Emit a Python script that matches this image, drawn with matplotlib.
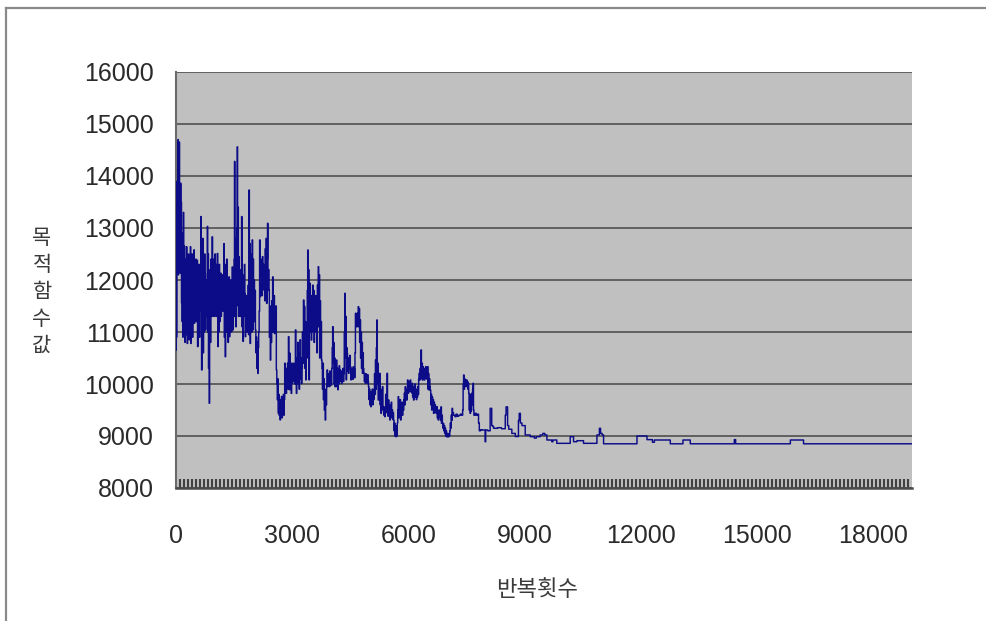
import matplotlib
matplotlib.use("Agg")
import matplotlib.pyplot as plt
from matplotlib.lines import Line2D
import numpy as np

# Objective value recorded over the search iterations
iterations = [
    0, 6, 12, 20, 28, 36, 44, 52, 60, 68, 76, 84, 92, 100, 110, 118, 126, 134, 142, 150,
    158, 166, 174, 182, 190, 198, 206, 214, 222, 230, 238, 246, 254, 262, 270, 280, 290, 300, 310, 320,
    330, 340, 350, 360, 370, 380, 390, 400, 412, 424, 436, 448, 460, 472, 484, 496, 508, 520, 532, 544,
    556, 568, 580, 592, 604, 616, 628, 640, 650, 660, 670, 680, 690, 700, 712, 724, 736, 748, 760, 772,
    784, 796, 808, 818, 828, 838, 848, 858, 868, 878, 888, 898, 910, 922, 932, 944, 956, 968, 980, 992,
    1004, 1016, 1030, 1042, 1054, 1066, 1078, 1090, 1102, 1114, 1126, 1138, 1150, 1162, 1174, 1186, 1198, 1210, 1222, 1234,
    1246, 1258, 1270, 1282, 1294, 1306, 1318, 1330, 1342, 1354, 1366, 1378, 1390, 1402, 1414, 1426, 1438, 1450, 1462, 1474,
    1486, 1498, 1510, 1520, 1530, 1540, 1550, 1560, 1570, 1580, 1590, 1600, 1610, 1620, 1632, 1644, 1656, 1668, 1680, 1692,
    1704, 1716, 1728, 1740, 1752, 1764, 1776, 1788, 1800, 1812, 1824, 1836, 1848, 1860, 1872, 1884, 1894, 1904, 1914, 1924,
    1934, 1944, 1954, 1966, 1978, 1990, 2002, 2014, 2026, 2038, 2050, 2062, 2074, 2086, 2098, 2110, 2122, 2134, 2146, 2158,
    2170, 2182, 2194, 2206, 2218, 2230, 2242, 2254, 2266, 2278, 2290, 2302, 2314, 2326, 2338, 2350, 2362, 2374, 2386, 2398,
    2410, 2422, 2434, 2446, 2458, 2470, 2482, 2494, 2506, 2518, 2530, 2542, 2554, 2566, 2578, 2590, 2602, 2614, 2626, 2638,
    2650, 2662, 2674, 2686, 2698, 2710, 2722, 2734, 2746, 2758, 2770, 2782, 2794, 2806, 2818, 2830, 2842, 2854, 2866, 2878,
    2890, 2902, 2914, 2926, 2938, 2950, 2962, 2974, 2986, 2998, 3010, 3022, 3034, 3046, 3058, 3070, 3082, 3094, 3106, 3118,
    3130, 3142, 3154, 3166, 3178, 3190, 3202, 3214, 3226, 3238, 3250, 3262, 3274, 3290, 3302, 3314, 3326, 3338, 3350, 3362,
    3375, 3388, 3400, 3410, 3420, 3432, 3444, 3456, 3468, 3480, 3492, 3504, 3516, 3528, 3540, 3552, 3564, 3576, 3588, 3600,
    3612, 3624, 3636, 3648, 3660, 3672, 3684, 3696, 3708, 3720, 3732, 3744, 3756, 3768, 3780, 3792, 3804, 3816, 3828, 3840,
    3852, 3864, 3876, 3888, 3900, 3912, 3924, 3936, 3948, 3960, 3972, 3984, 3996, 4008, 4020, 4032, 4044, 4056, 4068, 4080,
    4092, 4104, 4116, 4128, 4140, 4152, 4164, 4176, 4188, 4200, 4212, 4224, 4236, 4248, 4260, 4272, 4284, 4296, 4308, 4320,
    4332, 4344, 4356, 4368, 4380, 4392, 4404, 4416, 4428, 4440, 4452, 4464, 4476, 4488, 4500, 4512, 4524, 4536, 4548, 4560,
    4572, 4584, 4596, 4608, 4620, 4632, 4644, 4656, 4668, 4680, 4692, 4704, 4716, 4728, 4740, 4752, 4764, 4776, 4788, 4800,
    4812, 4824, 4836, 4848, 4860, 4872, 4884, 4896, 4908, 4920, 4932, 4944, 4956, 4968, 4980, 4992, 5004, 5016, 5028, 5040,
    5052, 5064, 5076, 5088, 5100, 5112, 5124, 5136, 5148, 5160, 5172, 5184, 5196, 5208, 5220, 5232, 5244, 5256, 5268, 5280,
    5292, 5304, 5316, 5328, 5340, 5352, 5364, 5376, 5388, 5400, 5412, 5424, 5436, 5448, 5460, 5472, 5484, 5496, 5508, 5520,
    5532, 5544, 5556, 5568, 5580, 5592, 5604, 5616, 5628, 5640, 5652, 5664, 5676, 5688, 5700, 5712, 5724, 5736, 5748, 5760,
    5772, 5784, 5796, 5808, 5820, 5832, 5844, 5856, 5868, 5880, 5892, 5904, 5916, 5928, 5940, 5952, 5964, 5976, 5988, 6000,
    6012, 6024, 6036, 6048, 6060, 6072, 6084, 6096, 6108, 6120, 6132, 6144, 6156, 6168, 6180, 6192, 6204, 6216, 6228, 6240,
    6252, 6264, 6276, 6288, 6300, 6312, 6324, 6336, 6348, 6360, 6372, 6384, 6396, 6408, 6420, 6432, 6444, 6456, 6468, 6480,
    6492, 6504, 6516, 6528, 6540, 6552, 6564, 6576, 6588, 6600, 6612, 6624, 6636, 6648, 6660, 6672, 6684, 6696, 6708, 6720,
    6732, 6744, 6756, 6768, 6780, 6792, 6804, 6816, 6828, 6840, 6852, 6864, 6876, 6888, 6900, 6912, 6924, 6936, 6948, 6960,
    6972, 6984, 6996, 7008, 7020, 7032, 7044, 7056, 7068, 7080, 7092, 7104, 7116, 7128, 7140, 7152, 7164, 7200, 7230, 7260,
    7300, 7340, 7370, 7400, 7412, 7424, 7436, 7448, 7460, 7472, 7484, 7496, 7508, 7520, 7532, 7544, 7556, 7568, 7580, 7592,
    7604, 7616, 7628, 7640, 7656, 7668, 7680, 7690, 7720, 7750, 7780, 7810, 7830, 7860, 7900, 7980, 7995, 8050, 8110, 8150,
    8180, 8200, 8300, 8400, 8500, 8520, 8560, 8590, 8670, 8760, 8840, 8860, 8890, 8930, 9015, 9144, 9250, 9300, 9400, 9470,
    9520, 9575, 9700, 9730, 9830, 10177, 10263, 10350, 10520, 10866, 10930, 10960, 11000, 11038, 11900, 12158, 12300, 12350, 12760, 13087,
    13276, 14413, 14447, 15860, 16200, 19000,
]

objective = [
    10650, 13250, 10900, 12400, 13900, 12800, 14200, 14700, 12100, 14500, 12300, 14650, 12150, 12450, 12130, 13860, 12200, 13500, 11560, 12900,
    11200, 12300, 10900, 11800, 13300, 12000, 11100, 12650, 11600, 10800, 12200, 11300, 12400, 10950, 12640, 11400, 10780, 12100, 11000, 12500,
    11700, 10850, 12200, 11300, 12640, 10780, 12000, 11200, 12500, 10900, 12300, 11500, 12580, 11170, 12200, 11500, 12400, 11200, 12000, 12380,
    10720, 11900, 11300, 12300, 10900, 12100, 11500, 13220, 11400, 10270, 12600, 11200, 12800, 10600, 12000, 11000, 12500, 12130, 11040, 11900,
    11300, 12000, 13030, 11000, 12500, 10300, 11800, 9630, 11500, 12200, 10800, 12400, 11300, 12000, 12830, 11300, 12400, 11600, 12100, 11300,
    12500, 11500, 12000, 11300, 12300, 12510, 10720, 12000, 11000, 12300, 11200, 11900, 12130, 11300, 12000, 11500, 12100, 11400, 11800, 12700,
    10900, 12300, 10525, 11800, 11000, 12400, 11200, 12000, 10800, 11700, 12060, 10910, 11800, 11200, 12000, 11000, 11600, 12250, 11040, 11800,
    11300, 12400, 14280, 11300, 12600, 11100, 12800, 11500, 13000, 14560, 12060, 13400, 11300, 12450, 11600, 12200, 11300, 12000, 11700, 13220,
    11100, 12100, 10820, 11800, 11300, 12300, 11740, 10910, 11600, 11100, 11700, 11000, 11500, 11900, 10950, 13730, 11900, 12700, 10780, 12200,
    11300, 12500, 11000, 12770, 11040, 12400, 11500, 12000, 11200, 11800, 11040, 10600, 10900, 10300, 10800, 10205, 10700, 11000, 11400, 12770,
    11680, 12400, 11900, 12200, 11700, 12450, 11810, 12300, 11900, 12200, 11600, 12600, 11700, 12800, 11550, 12400, 13090, 11800, 12200, 11810,
    10900, 11500, 10460, 11300, 10800, 11600, 11000, 12060, 11490, 11000, 11700, 10970, 11300, 11000, 11500, 10270, 10000, 9700, 10100, 9440,
    9800, 9400, 9600, 9310, 9700, 9400, 9760, 9350, 9600, 9500, 9800, 9400, 9700, 10400, 9900, 10200, 9820, 10300, 10000, 10400,
    9900, 10910, 10200, 9890, 10590, 10000, 10300, 9820, 10400, 10010, 10300, 10100, 10400, 10050, 10300, 10000, 11040, 10100, 9820, 10500,
    10200, 10800, 10000, 10400, 9900, 10600, 10850, 10100, 10500, 10010, 10300, 11000, 10400, 11615, 10800, 11490, 10300, 11200, 10080, 11000,
    10500, 11800, 12577, 11000, 12200, 10080, 11600, 11936, 11000, 11700, 10846, 11500, 11100, 11900, 11000, 11800, 10800, 11400, 11100, 11700,
    11000, 11500, 10600, 11900, 11200, 12256, 11100, 12100, 10500, 11600, 10700, 11200, 10460, 10300, 9900, 10400, 9700, 10100, 9500, 9900,
    9308, 9800, 9600, 10000, 10270, 9950, 10200, 10000, 10150, 9950, 10250, 10000, 10150, 9980, 10300, 10700, 11102, 10400, 10800, 10000,
    10500, 9950, 10400, 9950, 10460, 10100, 10300, 9890, 10200, 10000, 10350, 10050, 10270, 10050, 10200, 10010, 10250, 10100, 10300, 10050,
    10200, 11000, 11744, 10500, 11300, 10080, 10700, 10590, 10250, 10500, 10205, 10450, 10300, 10550, 10330, 10080, 10300, 10100, 10280, 10090,
    10330, 10150, 10300, 10120, 10600, 11360, 11100, 11300, 11150, 11360, 11100, 11487, 11200, 11450, 10800, 11231, 10500, 11000, 10300, 10800,
    10205, 10600, 10300, 10205, 10050, 10180, 10015, 10200, 10050, 10150, 10015, 10180, 10050, 9950, 9700, 9900, 9600, 9850, 9564, 9800,
    9650, 9900, 9600, 9800, 9700, 9900, 10200, 9800, 10460, 9900, 10700, 11231, 10000, 10400, 9692, 10100, 9800, 10205, 9600, 9900,
    9436, 9800, 9550, 9950, 9500, 9564, 9400, 9550, 9372, 9500, 9800, 9450, 9700, 10205, 9500, 9380, 9692, 9400, 9600, 9308,
    9550, 9350, 9650, 9400, 9500, 9320, 9450, 9300, 9100, 9250, 9000, 9200, 8987, 9150, 9000, 9250, 9500, 9756, 9350, 9600,
    9400, 9700, 9308, 9550, 9450, 9650, 9400, 9600, 9500, 9700, 9820, 9600, 9948, 9700, 9820, 9692, 9900, 10077, 9820, 10000,
    9850, 10050, 9900, 10077, 9850, 9950, 9830, 10013, 9750, 9950, 9692, 9900, 9800, 10000, 9750, 9900, 9700, 9850, 9750, 9950,
    9800, 10100, 10205, 10077, 10300, 10100, 10655, 10200, 10400, 10077, 10333, 10100, 10300, 10077, 10250, 10120, 10333, 10100, 10280, 10100,
    10333, 9900, 10200, 9885, 10100, 9950, 9885, 9600, 9800, 9500, 9750, 9550, 9700, 9436, 9650, 9500, 9600, 9450, 9550, 9436,
    9564, 9350, 9500, 9308, 9450, 9400, 9500, 9350, 9300, 9560, 9244, 9400, 9250, 9150, 9240, 9100, 9200, 9050, 9150, 9000,
    9100, 8987, 9050, 8987, 9000, 8987, 9050, 9000, 9100, 9250, 9150, 9400, 9300, 9532, 9400, 9450, 9400, 9372, 9420, 9380,
    9400, 9420, 9400, 9500, 10000, 10173, 9900, 10100, 10000, 10050, 9950, 10080, 9980, 10050, 9900, 10013, 9820, 9500, 9800, 9436,
    9750, 9480, 9820, 9600, 9900, 10013, 9500, 9400, 9436, 9400, 9420, 9250, 9100, 9120, 9115, 8890, 9115, 9100, 9532, 9200,
    9180, 9148, 9160, 9140, 9400, 9560, 9200, 9130, 9050, 8990, 9300, 9436, 9250, 9200, 9020, 8987, 8960, 8987, 9020, 9050,
    9020, 8923, 8890, 8923, 8859, 8987, 8890, 8910, 8859, 9020, 9148, 9050, 9020, 8850, 9000, 8930, 8880, 8923, 8850, 8923,
    8850, 8930, 8850, 8923, 8850, 8850,
]

y_ticks = [8000, 9000, 10000, 11000, 12000, 13000, 14000, 15000, 16000]
x_ticks = [0, 3000, 6000, 9000, 12000, 15000, 18000]
x_title = "반복횟수"
y_title = "목적함수값"

W, H, DPI = 986, 621, 100
X_MAX = 19000
AX_LEFT, AX_RIGHT, AX_TOP, AX_BOTTOM = 176, 912, 72, 488

fig = plt.figure(figsize=(W / DPI, H / DPI), dpi=DPI, facecolor="white")
ax = fig.add_axes([AX_LEFT / W, 1 - AX_BOTTOM / H,
                   (AX_RIGHT - AX_LEFT) / W, (AX_BOTTOM - AX_TOP) / H])
ax.set_facecolor("#c0c0c0")

ax.plot(iterations, objective, drawstyle="steps-post", color="#0c0c88",
        linewidth=1.05, zorder=3)

ax.set_xlim(0, X_MAX)
ax.set_ylim(8000, 16000)
ax.set_yticks(y_ticks)
ax.set_yticklabels([str(v) for v in y_ticks])
ax.set_xticks(x_ticks)
ax.set_xticklabels([str(v) for v in x_ticks])
# dense category tick marks, one every 4 pixels along the axis
minor_step = X_MAX * 4 / (AX_RIGHT - AX_LEFT)
ax.set_xticks(np.arange(0, X_MAX, minor_step), minor=True)

ax.yaxis.grid(True, color="#505050", linewidth=1.2, zorder=1)
ax.set_axisbelow(True)

num_family = ["Liberation Sans", "DejaVu Sans"]
for lab in ax.get_xticklabels() + ax.get_yticklabels():
    lab.set_fontfamily(num_family)
    lab.set_fontsize(18)
    lab.set_color("#2a2a2a")

ax.tick_params(axis="y", which="major", length=0, pad=16)
ax.tick_params(axis="x", which="major", length=0, pad=26)
ax.tick_params(axis="x", which="minor", direction="in", length=6.2,
               width=1.5, color="#404040")

for side in ("top", "right"):
    ax.spines[side].set_visible(False)
ax.spines["left"].set_color("#6a6a6a")
ax.spines["left"].set_linewidth(1.5)
ax.spines["bottom"].set_color("#4a4a4a")
ax.spines["bottom"].set_linewidth(1.8)

kr = ["Noto Sans CJK KR", "DejaVu Sans"]
fig.text(537 / W, 1 - 590 / H, x_title, family=kr, fontsize=16,
         color="#3a3a3a", ha="center", va="center")
fig.text(42 / W, 1 - 292 / H, "\n".join(y_title), family=kr, fontsize=15,
         color="#3a3a3a", ha="center", va="center", linespacing=1.3)

# outer frame lines of the chart area
fig.add_artist(Line2D([6 / W, 6 / W], [0, 1 - 8 / H], transform=fig.transFigure,
                      color="#8a8a8a", linewidth=1.6))
fig.add_artist(Line2D([6 / W, 1], [1 - 8 / H, 1 - 8 / H], transform=fig.transFigure,
                      color="#8a8a8a", linewidth=1.6))

fig.savefig("out.png", dpi=DPI, facecolor="white")
